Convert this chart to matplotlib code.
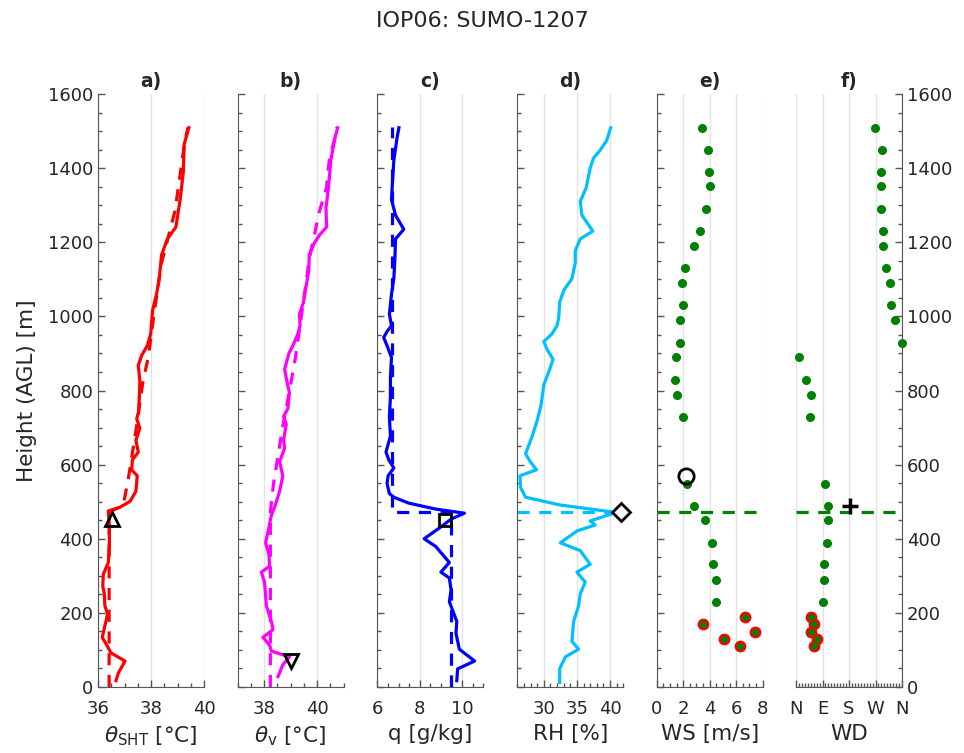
import numpy as np
import matplotlib
matplotlib.use("Agg")
from matplotlib import pyplot as plt
from matplotlib.ticker import MultipleLocator

# ---- a) theta_SHT
z_th = [17, 38, 70, 92, 113, 134, 177, 198, 219, 251, 272, 304, 336, 379, 432, 475, 485, 501,
        528, 570, 586, 613, 634, 666, 698, 724, 741, 783, 826, 868, 895, 921, 953, 1017, 1060,
        1102, 1166, 1209, 1241, 1315, 1390, 1464, 1509]
th_sht = [36.68, 36.77, 37.02, 36.49, 36.33, 36.16, 36.30, 36.36, 36.26, 36.24, 36.18, 36.20,
          36.39, 36.43, 36.43, 36.39, 36.83, 37.21, 37.43, 37.48, 37.27, 37.30, 37.52, 37.43,
          37.58, 37.46, 37.53, 37.56, 37.58, 37.52, 37.65, 37.86, 37.99, 38.06, 38.21, 38.31,
          38.40, 38.62, 38.94, 39.10, 39.22, 39.25, 39.43]
z_th_fit = [0, 472, 490, 560, 700, 826, 890, 1000, 1145, 1283, 1347, 1475, 1510]
th_sht_fit = [36.42, 36.42, 36.95, 37.14, 37.45, 37.70, 37.90, 38.10, 38.40, 38.90, 39.03, 39.28, 39.40]
zi_a, th_a = 453, 36.52

# ---- b) theta_v
z_tv = [28, 60, 81, 97, 113, 134, 155, 177, 219, 283, 310, 326, 357, 389, 432, 464, 485, 528,
        570, 608, 645, 666, 709, 730, 751, 794, 826, 858, 900, 921, 953, 975, 1006, 1038, 1081,
        1124, 1166, 1198, 1219, 1241, 1294, 1326, 1368, 1421, 1485, 1509]
th_v = [38.53, 38.71, 38.96, 38.28, 38.21, 37.96, 38.34, 38.28, 38.09, 38.02, 37.90, 38.21,
        38.19, 38.06, 38.19, 38.28, 38.40, 38.59, 38.71, 38.59, 38.78, 38.74, 38.84, 38.74,
        38.90, 38.96, 38.86, 38.78, 38.94, 39.09, 39.28, 39.36, 39.34, 39.49, 39.59, 39.69,
        39.71, 39.90, 40.09, 40.36, 40.34, 40.40, 40.46, 40.52, 40.69, 40.78]
z_tv_fit = [0, 472, 549, 700, 826, 890, 1092, 1156, 1283, 1347, 1421, 1475, 1510]
th_v_fit = [38.24, 38.24, 38.36, 38.70, 39.03, 39.19, 39.59, 39.71, 40.09, 40.36, 40.46, 40.65, 40.75]
z_b, th_b = 70, 39.03

# ---- c) q
z_q = [17, 49, 70, 102, 145, 177, 230, 262, 294, 310, 336, 352, 379, 400, 432, 453, 469, 480,
       496, 512, 522, 549, 570, 591, 613, 634, 677, 730, 783, 836, 889, 921, 943, 959, 975,
       1006, 1060, 1102, 1155, 1209, 1235, 1273, 1315, 1347, 1421, 1485, 1509]
q = [9.75, 9.79, 10.59, 9.87, 9.71, 9.75, 9.40, 9.48, 9.40, 9.00, 9.40, 9.16, 8.76, 8.21, 9.00,
     9.48, 10.11, 8.76, 7.49, 6.78, 6.57, 6.46, 6.51, 6.78, 6.54, 6.41, 6.62, 6.57, 6.62, 6.62,
     6.67, 6.46, 6.30, 6.46, 6.67, 6.57, 6.67, 6.78, 6.83, 6.86, 7.25, 6.86, 6.67, 6.70, 6.78,
     6.94, 7.02]
z_q_fit = [0, 471, 471, 1510]
q_fit = [9.48, 9.48, 6.68, 6.68]
zi_c, q_c = 451, 9.21

# ---- d) RH
z_rh = [12, 49, 81, 102, 123, 177, 219, 251, 283, 310, 331, 368, 389, 421, 437, 448, 471, 491,
        512, 538, 570, 586, 607, 629, 677, 719, 762, 815, 858, 884, 911, 932, 953, 975, 996,
        1038, 1070, 1102, 1145, 1177, 1209, 1230, 1273, 1310, 1347, 1400, 1427, 1448, 1475, 1509]
rh = [32.4, 32.4, 33.25, 35.25, 34.25, 34.5, 35.25, 35.5, 36.25, 35.0, 37.0, 35.5, 32.5, 35.0,
      37.75, 37.0, 40.9, 32.5, 27.25, 26.5, 26.4, 28.9, 28.0, 27.25, 28.25, 29.0, 29.6, 30.0,
      30.9, 31.4, 30.5, 30.0, 31.25, 32.0, 32.25, 32.4, 33.0, 34.25, 34.75, 34.75, 35.5, 37.4,
      35.75, 35.5, 36.4, 37.0, 37.5, 38.5, 39.5, 40.1]
zi_d, rh_d = 471, 41.6

# ---- e/f) wind (green = lidar, red = lowest levels)
z_wind = [1509, 1450, 1390, 1351, 1291, 1230, 1191, 1130, 1090, 1030, 991, 929, 890, 828, 788,
          728, 549, 488, 450, 389, 331, 290, 230]
ws = [3.43, 3.85, 3.93, 4.05, 3.70, 3.30, 2.85, 2.13, 1.88, 1.95, 1.73, 1.73, 1.43, 1.35, 1.55,
      1.95, 2.25, 2.80, 3.63, 4.20, 4.25, 4.50, 4.50]
wd = [269, 292, 288, 288, 288, 295, 295, 305, 320, 323, 336, 359, 10, 34, 51, 49, 99, 108, 108,
      106, 95, 95, 91]
z_low = [190, 169, 148, 129, 110]
ws_low = [6.63, 3.48, 7.43, 5.05, 6.30]
wd_low = [51, 62, 51, 70, 61]
z_e, ws_e = 570, 2.2
z_f, wd_f = 488, 184
z_mix = 471

c_red = "#FF0000"
c_mag = "#FF00FF"
c_blu = "#0000FF"
c_sky = "#00BFFF"
c_grn = "#008000"
c_txt = "#262626"

plt.rcParams["font.family"] = "DejaVu Sans"
plt.rcParams["font.size"] = 13
plt.rcParams["axes.labelsize"] = 15.5
plt.rcParams["text.color"] = c_txt
plt.rcParams["axes.labelcolor"] = c_txt
plt.rcParams["xtick.color"] = c_txt
plt.rcParams["ytick.color"] = c_txt

fig = plt.figure(figsize=(9.64, 7.53), dpi=100)
W, H = 964.0, 753.0
lefts = [98, 237.5, 377.3, 517.3, 656.7, 796]
axw = 106.0
bot = 1 - 687 / H
hgt = (687 - 94) / H
axs = [fig.add_axes([l / W, bot, axw / W, hgt]) for l in lefts]

lw = 2.3
dsh = (3.8, 3.0)
lp = 5

ax = axs[0]
ax.plot(th_sht, z_th, color=c_red, lw=lw)
ax.plot(th_sht_fit, z_th_fit, color=c_red, lw=lw, dashes=dsh)
ax.plot(th_a, zi_a, marker="^", ms=10, mfc="none", mec="k", mew=2)
ax.set(xlim=[36, 40], xticks=[36, 38, 40])
ax.xaxis.set_minor_locator(MultipleLocator(0.5))
ax.set_xlabel(r"$\theta_{\rm SHT}$ [°C]", labelpad=lp)
ax.set_ylabel("Height (AGL) [m]", labelpad=8)

ax = axs[1]
ax.plot(th_v, z_tv, color=c_mag, lw=lw)
ax.plot(th_v_fit, z_tv_fit, color=c_mag, lw=lw, dashes=dsh)
ax.plot(th_b, z_b, marker="v", ms=10, mfc="none", mec="k", mew=2)
ax.set(xlim=[37, 41], xticks=[38, 40])
ax.xaxis.set_minor_locator(MultipleLocator(0.5))
ax.set_xlabel(r"$\theta_{\rm v}$ [°C]", labelpad=lp)

ax = axs[2]
ax.plot(q, z_q, color=c_blu, lw=lw)
ax.plot(q_fit, z_q_fit, color=c_blu, lw=lw, dashes=dsh)
ax.plot(q_c, zi_c, marker="s", ms=8, mfc="none", mec="k", mew=2)
ax.set(xlim=[6, 11], xticks=[6, 8, 10])
ax.xaxis.set_minor_locator(MultipleLocator(0.5))
ax.set_xlabel("q [g/kg]", labelpad=lp)

ax = axs[3]
ax.plot(rh, z_rh, color=c_sky, lw=lw)
ax.plot([26, rh_d], [zi_d, zi_d], color=c_sky, lw=lw, dashes=dsh)
ax.plot(rh_d, zi_d, marker="D", ms=9, mfc="white", mec="k", mew=2, clip_on=False, zorder=5)
ax.set(xlim=[26, 42], xticks=[30, 35, 40])
ax.xaxis.set_minor_locator(MultipleLocator(1))
ax.set_xlabel("RH [%]", labelpad=lp)

ax = axs[4]
ax.axhline(z_mix, color=c_grn, lw=lw, dashes=dsh)
ax.plot(ws, z_wind, "o", color=c_grn, ms=6.5, mew=0)
ax.plot(ws_low, z_low, "o", color=c_red, ms=8.5, mew=0)
ax.plot(ws_low, z_low, "o", color=c_grn, ms=5, mew=0)
ax.plot(ws_e, z_e, marker="o", ms=11, mfc="none", mec="k", mew=2)
ax.set(xlim=[0, 8], xticks=[0, 2, 4, 6, 8])
ax.xaxis.set_minor_locator(MultipleLocator(0.5))
ax.set_xlabel("WS [m/s]", labelpad=lp)

ax = axs[5]
ax.axhline(z_mix, color=c_grn, lw=lw, dashes=dsh)
ax.plot(wd, z_wind, "o", color=c_grn, ms=6.5, mew=0, clip_on=False)
ax.plot(wd_low, z_low, "o", color=c_red, ms=8.5, mew=0)
ax.plot(wd_low, z_low, "o", color=c_grn, ms=5, mew=0)
ax.plot(wd_f, z_f, marker="+", ms=11, color="k", mew=2.5)
ax.set(xlim=[0, 360], xticks=[0, 90, 180, 270, 360])
ax.set_xticklabels(["N", "E", "S", "W", "N"])
ax.xaxis.set_minor_locator(MultipleLocator(10))
ax.set_xlabel("WD", labelpad=lp)

for i, ax in enumerate(axs):
    ax.set_ylim(0, 1600)
    ax.yaxis.set_major_locator(MultipleLocator(200))
    ax.yaxis.set_minor_locator(MultipleLocator(50))
    ax.grid(axis="x", color="#E3E3E3", lw=1)
    ax.set_axisbelow(True)
    ax.spines["top"].set_visible(False)
    for s in ["left", "right", "bottom"]:
        ax.spines[s].set_color("#555555")
    ax.tick_params(which="both", direction="in", width=1, color="#555555")
    ax.tick_params(which="major", length=5)
    ax.tick_params(which="minor", length=3)
    ax.tick_params(axis="x", pad=9)
    ax.set_title("abcdef"[i] + ")", fontweight="bold", fontsize=13.5, pad=5)
    if i == 5:
        ax.spines["left"].set_visible(False)
        ax.yaxis.tick_right()
        ax.tick_params(axis="y", which="both", right=True, left=False, labelright=True)
    else:
        ax.spines["right"].set_visible(False)
        if i > 0:
            ax.tick_params(axis="y", which="both", labelleft=False)

fig.suptitle("IOP06: SUMO-1207", fontsize=16, y=0.985)
fig.savefig("out.png", dpi=100)
